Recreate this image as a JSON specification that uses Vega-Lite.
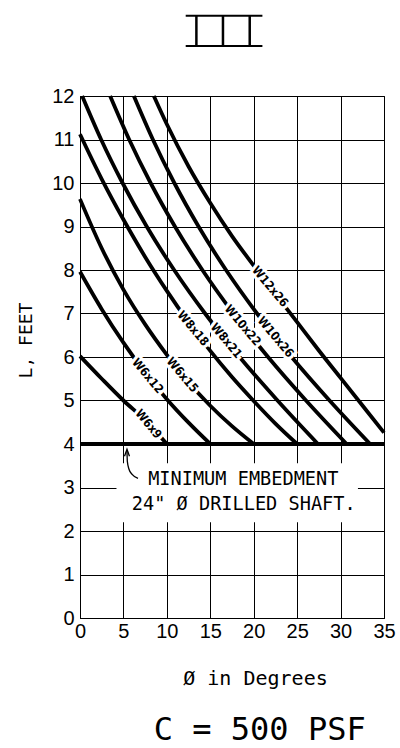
{
  "$schema": "https://vega.github.io/schema/vega-lite/v6.json",
  "width": 304,
  "height": 522,
  "autosize": "none",
  "padding": {"left": 80, "top": 96, "right": 16, "bottom": 130},
  "background": "white",
  "config": {
    "view": {"stroke": "#000", "strokeWidth": 1},
    "axis": {
      "grid": true, "gridColor": "#000", "gridOpacity": 1, "gridWidth": 1,
      "domainColor": "#000", "domainWidth": 1,
      "ticks": false, "tickSize": 0,
      "labelFont": "Liberation Sans", "labelFontSize": 20, "labelColor": "#000",
      "labelFlush": false, "labelOverlap": false, "labelBound": false,
      "titleColor": "#000", "titleFontWeight": "normal", "titleFont": "DejaVu Sans Mono"
    }
  },
  "datasets": {
    "curves": [
      {"c": "W6x9", "x": 0, "y": 6.02}, {"c": "W6x9", "x": 2.5, "y": 5.5}, {"c": "W6x9", "x": 5, "y": 5.0}, {"c": "W6x9", "x": 7.5, "y": 4.55}, {"c": "W6x9", "x": 10, "y": 4},
      {"c": "W6x12", "x": 0, "y": 7.96}, {"c": "W6x12", "x": 2.5, "y": 7.10}, {"c": "W6x12", "x": 5, "y": 6.33}, {"c": "W6x12", "x": 7.5, "y": 5.64}, {"c": "W6x12", "x": 10, "y": 5.03}, {"c": "W6x12", "x": 12.5, "y": 4.49}, {"c": "W6x12", "x": 15, "y": 4},
      {"c": "W6x15", "x": 0, "y": 9.63}, {"c": "W6x15", "x": 2.5, "y": 8.5}, {"c": "W6x15", "x": 5, "y": 7.55}, {"c": "W6x15", "x": 7.5, "y": 6.75}, {"c": "W6x15", "x": 10, "y": 6.05}, {"c": "W6x15", "x": 12.5, "y": 5.42}, {"c": "W6x15", "x": 15, "y": 4.88}, {"c": "W6x15", "x": 17.5, "y": 4.41}, {"c": "W6x15", "x": 20, "y": 4},
      {"c": "W8x18", "x": 0, "y": 11.12}, {"c": "W8x18", "x": 2.5, "y": 10.09}, {"c": "W8x18", "x": 5, "y": 9.16}, {"c": "W8x18", "x": 7.5, "y": 8.30}, {"c": "W8x18", "x": 10, "y": 7.52}, {"c": "W8x18", "x": 12.5, "y": 6.80}, {"c": "W8x18", "x": 15, "y": 6.14}, {"c": "W8x18", "x": 17.5, "y": 5.54}, {"c": "W8x18", "x": 20, "y": 4.99}, {"c": "W8x18", "x": 22.5, "y": 4.47}, {"c": "W8x18", "x": 25, "y": 4},
      {"c": "W8x21", "x": 0.25, "y": 12}, {"c": "W8x21", "x": 2.43, "y": 11}, {"c": "W8x21", "x": 4.9, "y": 10}, {"c": "W8x21", "x": 7.68, "y": 9}, {"c": "W8x21", "x": 10.84, "y": 8}, {"c": "W8x21", "x": 14.4, "y": 7}, {"c": "W8x21", "x": 18.37, "y": 6}, {"c": "W8x21", "x": 22.74, "y": 5}, {"c": "W8x21", "x": 27.4, "y": 4},
      {"c": "W10x22", "x": 3.47, "y": 12}, {"c": "W10x22", "x": 5.66, "y": 11}, {"c": "W10x22", "x": 8.13, "y": 10}, {"c": "W10x22", "x": 10.93, "y": 9}, {"c": "W10x22", "x": 14.09, "y": 8}, {"c": "W10x22", "x": 17.66, "y": 7}, {"c": "W10x22", "x": 21.65, "y": 6}, {"c": "W10x22", "x": 26.02, "y": 5}, {"c": "W10x22", "x": 30.7, "y": 4},
      {"c": "W10x26", "x": 6.2, "y": 12}, {"c": "W10x26", "x": 8.39, "y": 11}, {"c": "W10x26", "x": 10.86, "y": 10}, {"c": "W10x26", "x": 13.65, "y": 9}, {"c": "W10x26", "x": 16.81, "y": 8}, {"c": "W10x26", "x": 20.38, "y": 7}, {"c": "W10x26", "x": 24.36, "y": 6}, {"c": "W10x26", "x": 28.73, "y": 5}, {"c": "W10x26", "x": 33.4, "y": 4},
      {"c": "W12x26", "x": 8.5, "y": 12}, {"c": "W12x26", "x": 10, "y": 11.35}, {"c": "W12x26", "x": 12.5, "y": 10.38}, {"c": "W12x26", "x": 15, "y": 9.54}, {"c": "W12x26", "x": 17.5, "y": 8.78}, {"c": "W12x26", "x": 20, "y": 8.1}, {"c": "W12x26", "x": 22.5, "y": 7.45}, {"c": "W12x26", "x": 25, "y": 6.8}, {"c": "W12x26", "x": 27.5, "y": 6.15}, {"c": "W12x26", "x": 30, "y": 5.52}, {"c": "W12x26", "x": 32.5, "y": 4.89}, {"c": "W12x26", "x": 35, "y": 4.26}
    ],
    "labels": [
      {"t": "W6x9", "x": 7.9, "y": 4.46},
      {"t": "W6x12", "x": 7.8, "y": 5.57},
      {"t": "W6x15", "x": 11.8, "y": 5.59},
      {"t": "W8x18", "x": 13.03, "y": 6.66},
      {"t": "W8x21", "x": 16.85, "y": 6.38},
      {"t": "W10x22", "x": 18.75, "y": 6.73},
      {"t": "W10x26", "x": 22.53, "y": 6.46},
      {"t": "W12x26", "x": 21.9, "y": 7.62}
    ]
  },
  "encoding": {
    "x": {
      "field": "x", "type": "quantitative",
      "scale": {"domain": [0, 35], "nice": false, "zero": false},
      "axis": {
        "values": [0, 5, 10, 15, 20, 25, 30, 35], "labelPadding": 3,
        "title": "Ø in Degrees", "titleFontSize": 20,
        "titleX": 175, "titleY": 66, "titleBaseline": "alphabetic", "titleAlign": "center"
      }
    },
    "y": {
      "field": "y", "type": "quantitative",
      "scale": {"domain": [0, 12], "nice": false, "zero": false},
      "axis": {
        "values": [0, 1, 2, 3, 4, 5, 6, 7, 8, 9, 10, 11, 12], "labelPadding": 6,
        "title": "L, FEET", "titleFontSize": 18,
        "titleX": -49, "titleY": 244, "titleBaseline": "alphabetic", "titleAlign": "center", "titleAngle": 270
      }
    }
  },
  "layer": [
    {
      "data": {"values": [{"x": 4.2, "x2": 32.0, "y": 2.2, "y2": 3.56}]},
      "mark": {"type": "rect", "fill": "white", "stroke": null},
      "encoding": {"x2": {"field": "x2"}, "y2": {"field": "y2"}}
    },
    {
      "data": {"values": [{"x": 0, "x2": 35, "y": 4}]},
      "mark": {"type": "rule", "color": "#000", "strokeWidth": 4},
      "encoding": {"x2": {"field": "x2"}}
    },
    {
      "data": {"name": "curves"},
      "mark": {"type": "line", "color": "#000", "strokeWidth": 3.8, "interpolate": "monotone", "strokeCap": "butt"},
      "encoding": {"detail": {"field": "c", "type": "nominal"}}
    },
    {
      "data": {"name": "labels"},
      "mark": {"type": "text", "font": "DejaVu Sans Condensed", "fontWeight": "bold", "fontSize": 12, "angle": 50, "align": "center", "baseline": "middle", "fill": "white", "stroke": "white", "strokeWidth": 6},
      "encoding": {"text": {"field": "t", "type": "nominal"}}
    },
    {
      "data": {"name": "labels"},
      "mark": {"type": "text", "font": "DejaVu Sans Condensed", "fontWeight": "bold", "fontSize": 12, "angle": 50, "align": "center", "baseline": "middle", "color": "#000"},
      "encoding": {"text": {"field": "t", "type": "nominal"}}
    },
    {
      "data": {"values": [{"x": 5.41, "y": 3.84}, {"x": 5.45, "y": 3.6}, {"x": 5.64, "y": 3.42}, {"x": 6.0, "y": 3.3}, {"x": 6.68, "y": 3.21}]},
      "mark": {"type": "line", "color": "#000", "strokeWidth": 1.3, "interpolate": "monotone"},
      "encoding": {}
    },
    {
      "data": {"values": [{"x": 5.41, "y": 3.8}]},
      "mark": {"type": "point", "shape": "M-0.7,1L0,-1L0.7,1", "filled": false, "stroke": "#000", "strokeWidth": 1.3, "size": 50, "opacity": 1},
      "encoding": {}
    },
    {
      "data": {"values": [{"t": "MINIMUM EMBEDMENT", "x": 18.8, "y": 3.06}, {"t": "24\" Ø DRILLED SHAFT.", "x": 18.85, "y": 2.48}]},
      "mark": {"type": "text", "font": "DejaVu Sans Mono", "fontSize": 18.6, "align": "center", "baseline": "alphabetic", "color": "#000"},
      "encoding": {"text": {"field": "t", "type": "nominal"}}
    },
    {
      "data": {"values": [{"t": "C = 500 PSF", "x": 20.69, "y": -2.8}]},
      "mark": {"type": "text", "font": "DejaVu Sans Mono", "fontSize": 32, "align": "center", "baseline": "alphabetic", "color": "#000"},
      "encoding": {"text": {"field": "t", "type": "nominal"}}
    },
    {
      "data": {"values": [{"x": 12.17, "x2": 21.0, "y": 13.846}, {"x": 12.17, "x2": 21.0, "y": 13.149}]},
      "mark": {"type": "rule", "color": "#000", "strokeWidth": 2},
      "encoding": {"x2": {"field": "x2"}}
    },
    {
      "data": {"values": [{"x": 13.4, "y": 13.149, "y2": 13.846}, {"x": 16.46, "y": 13.149, "y2": 13.846}, {"x": 19.54, "y": 13.149, "y2": 13.846}]},
      "mark": {"type": "rule", "color": "#000", "strokeWidth": 2.5},
      "encoding": {"y2": {"field": "y2"}}
    }
  ]
}
